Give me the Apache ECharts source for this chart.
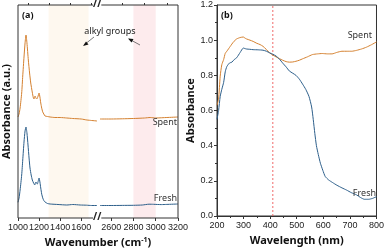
<!DOCTYPE html>
<html><head><meta charset="utf-8">
<script src="https://cdn.jsdelivr.net/npm/echarts@6/dist/echarts.min.js"></script>
<style>html,body{margin:0;padding:0;background:#fff}#c{width:387px;height:251px}</style>
</head><body><div id="c"></div>
<script>
// ---- Panel (a): FTIR, broken wavenumber axis ----
const ftirTicksLow = [1000, 1200, 1400, 1600];
const ftirTicksHigh = [2600, 2800, 3000, 3200];
const ftirMinorLow = [1100, 1300, 1500, 1700];
const ftirMinorHigh = [2700, 2900, 3100];
const alkylBandLow = [1290, 1670];
const alkylBandHigh = [2800, 3000];
const ftirSpentLow = [[1000,101],[1010,104],[1020,110],[1035,125],[1045,142],[1057,161],[1067,175],[1076,183],[1085,175],[1098,158],[1110,145],[1121,135],[1135,126],[1146,120],[1152,119],[1162,122],[1170,120],[1178,119],[1188,121],[1200,125],[1208,121],[1216,115],[1225,110],[1235,106],[1245,104],[1257,102],[1280,101.5],[1305,101],[1350,100.5],[1400,100.5],[1463,100],[1520,99.5],[1600,99],[1654,98],[1700,97.5],[1750,97]];
const ftirSpentHigh = [[2500,99],[2600,99],[2700,99.2],[2800,99.5],[2900,100],[2950,100.5],[3000,100],[3100,100.5],[3200,101]];
const ftirFreshLow = [[1000,15.7],[1010,20],[1020,28],[1035,43],[1045,58],[1057,76],[1067,87],[1076,91],[1085,85],[1095,73],[1105,60],[1114,50],[1125,43],[1136,38],[1148,35],[1159,33],[1165,35],[1171,36],[1178,34.5],[1184,34],[1192,37],[1200,40],[1208,36],[1216,30],[1225,24],[1235,20],[1245,17.5],[1257,16],[1280,14.5],[1305,14],[1380,13.5],[1463,13],[1520,13.5],[1590,13],[1650,12.8],[1700,12.5],[1750,12.5]];
const ftirFreshHigh = [[2500,12.5],[2600,12.5],[2700,12.6],[2800,12.7],[2880,13],[2940,13.8],[2980,13.7],[3050,13.4],[3100,13.6],[3200,14]];

// ---- Panel (b): UV-Vis ----
const uvSpent = [[200,0.63],[206,0.665],[212,0.795],[218,0.86],[225,0.89],[231,0.925],[237,0.937],[250,0.965],[262,0.99],[274,1.007],[287,1.015],[299,1.018],[305,1.012],[311,1.007],[324,1.0],[336,0.993],[350,0.982],[362,0.975],[373,0.965],[385,0.948],[398,0.928],[410,0.915],[422,0.905],[435,0.895],[447,0.886],[460,0.878],[472,0.875],[485,0.876],[497,0.88],[510,0.886],[522,0.894],[540,0.905],[559,0.918],[578,0.922],[596,0.924],[615,0.922],[633,0.922],[650,0.93],[670,0.937],[690,0.937],[707,0.937],[725,0.942],[744,0.95],[762,0.96],[781,0.974],[800,0.99]];
const uvFresh = [[200,0.55],[206,0.6],[212,0.68],[218,0.72],[225,0.76],[231,0.82],[237,0.85],[247,0.87],[256,0.875],[265,0.89],[274,0.9],[287,0.93],[299,0.955],[310,0.95],[324,0.948],[336,0.946],[355,0.945],[373,0.943],[386,0.937],[398,0.928],[410,0.92],[422,0.91],[435,0.892],[447,0.87],[460,0.848],[472,0.825],[485,0.812],[497,0.8],[510,0.778],[522,0.75],[534,0.72],[546,0.68],[556,0.62],[562,0.55],[568,0.47],[574,0.4],[581,0.35],[589,0.3],[598,0.26],[607,0.225],[620,0.205],[635,0.19],[651,0.175],[670,0.16],[688,0.147],[705,0.133],[725,0.12],[740,0.105],[755,0.095],[770,0.095],[785,0.1],[800,0.11]];
const uvMarker = 410;
const uvMarkerSpan = [0, 1.2];

const ORANGE = '#d4802f', BLUE = '#2c5e8a', AX = '#333', MARK = '#f06a6a';
const FONT = '"Noto Sans", "Open Sans", sans-serif';
const TFONT = '"Liberation Sans", sans-serif';
const lbl = {fontSize: 9, color: '#222', fontFamily: TFONT};

const chart = echarts.init(document.getElementById('c'), null, {renderer: 'canvas'});
function lineSeries(x, y, data, color, extra) {
  return Object.assign({type: 'line', xAxisIndex: x, yAxisIndex: y, data: data, showSymbol: false,
    smooth: 0.2, lineStyle: {color: color, width: 1}, itemStyle: {color: color}, animation: false, z: 3}, extra || {});
}
const plain = v => String(v);
const forceLbl = {margin: 5, interval: 0, hideOverlap: false, showMinLabel: true, showMaxLabel: true, formatter: plain};
chart.setOption({
  animation: false,
  grid: [
    {left: 18, width: 79, top: 5, height: 213},
    {left: 100, width: 78, top: 5, height: 213},
    {left: 217, right: 8, top: 5, bottom: 33, show: true, borderColor: AX, borderWidth: 1}
  ],
  xAxis: [
    {gridIndex: 0, type: 'value', min: 1000, max: 1750, axisLine: {show: false}, splitLine: {show: false},
      axisTick: {show: true, customValues: ftirTicksLow, length: 3, lineStyle: {color: AX}},
      axisLabel: Object.assign({customValues: ftirTicksLow}, forceLbl, lbl)},
    {gridIndex: 1, type: 'value', min: 2500, max: 3200, axisLine: {show: false}, splitLine: {show: false},
      axisTick: {show: true, customValues: ftirTicksHigh, length: 3, lineStyle: {color: AX}},
      axisLabel: Object.assign({customValues: ftirTicksHigh}, forceLbl, lbl)},
    {gridIndex: 0, type: 'value', min: 1000, max: 1750, axisLine: {show: false}, splitLine: {show: false},
      axisTick: {show: true, customValues: ftirMinorLow, length: 2, lineStyle: {color: AX}}, axisLabel: {show: false}},
    {gridIndex: 1, type: 'value', min: 2500, max: 3200, axisLine: {show: false}, splitLine: {show: false},
      axisTick: {show: true, customValues: ftirMinorHigh, length: 2, lineStyle: {color: AX}}, axisLabel: {show: false}},
    {gridIndex: 2, type: 'value', min: 200, max: 800, interval: 100, splitLine: {show: false},
      axisLine: {lineStyle: {color: AX}}, axisTick: {length: 3, lineStyle: {color: AX}},
      minorTick: {show: true, splitNumber: 2, length: 2, lineStyle: {color: AX}},
      axisLabel: Object.assign({}, forceLbl, lbl),
      name: 'Wavelength (nm)', nameLocation: 'middle', nameGap: 19,
      nameTextStyle: {fontSize: 11, fontWeight: 'bold', color: '#111', fontFamily: FONT}}
  ],
  yAxis: [
    {gridIndex: 0, type: 'value', min: 0, max: 213, axisLine: {show: false}, axisTick: {show: false},
      axisLabel: {show: false}, splitLine: {show: false},
      name: 'Absorbance (a.u.)', nameLocation: 'middle', nameGap: 6,
      nameTextStyle: {fontSize: 11, fontWeight: 'bold', color: '#111', fontFamily: FONT}},
    {gridIndex: 1, type: 'value', min: 0, max: 213, show: false},
    {gridIndex: 2, type: 'value', min: 0, max: 1.2, interval: 0.2, splitLine: {show: false},
      axisLine: {show: true, lineStyle: {color: AX}}, axisTick: {show: true, length: 3, lineStyle: {color: AX}},
      minorTick: {show: true, splitNumber: 2, length: 2, lineStyle: {color: AX}},
      axisLabel: Object.assign({margin: 4, formatter: v => v.toFixed(1)}, lbl),
      name: 'Absorbance', nameLocation: 'middle', nameGap: 20,
      nameTextStyle: {fontSize: 11, fontWeight: 'bold', color: '#111', fontFamily: FONT}}
  ],
  series: [
    lineSeries(0, 0, ftirSpentLow, ORANGE, {markArea: {silent: true, itemStyle: {color: '#fef8ef', opacity: 1},
      data: [[{xAxis: alkylBandLow[0]}, {xAxis: alkylBandLow[1]}]]}}),
    lineSeries(1, 1, ftirSpentHigh, ORANGE, {markArea: {silent: true, itemStyle: {color: '#fdebed', opacity: 1},
      data: [[{xAxis: alkylBandHigh[0]}, {xAxis: alkylBandHigh[1]}]]}}),
    lineSeries(0, 0, ftirFreshLow, BLUE),
    lineSeries(1, 1, ftirFreshHigh, BLUE),
    lineSeries(4, 2, uvMarkerSpan.map(v => [uvMarker, v]), MARK, {smooth: false, z: 2,
      lineStyle: {color: MARK, width: 1, type: [2, 2]}}),
    lineSeries(4, 2, uvSpent, ORANGE),
    lineSeries(4, 2, uvFresh, BLUE)
  ],
  graphic: [
    {type: 'rect', shape: {x: 18, y: 5, width: 160, height: 213}, style: {fill: 'none', stroke: AX, lineWidth: 1}, z: 10},
    {type: 'text', x: 93, y: -1, style: {text: '//', fontSize: 10, fontWeight: 'bold', fill: '#222', fontFamily: FONT, backgroundColor: '#fff'}, z: 11},
    {type: 'text', x: 93, y: 212, style: {text: '//', fontSize: 10, fontWeight: 'bold', fill: '#222', fontFamily: FONT, backgroundColor: '#fff'}, z: 11},
    {type: 'text', x: 98, y: 243, style: {text: 'Wavenumber (cm{s|-1})', align: 'center', verticalAlign: 'middle',
      fontSize: 11, fontWeight: 'bold', fill: '#111', fontFamily: FONT,
      rich: {s: {fontSize: 7, fontWeight: 'bold', fill: '#111', fontFamily: FONT, verticalAlign: 'top', padding: [0, 0, 6, 0]}}}, z: 10},
    {type: 'text', x: 22, y: 15, style: {text: '(a)', verticalAlign: 'middle', fontSize: 9, fontWeight: 'bold', fill: '#111', fontFamily: FONT}, z: 10},
    {type: 'text', x: 221, y: 15, style: {text: '(b)', verticalAlign: 'middle', fontSize: 9, fontWeight: 'bold', fill: '#111', fontFamily: FONT}, z: 10},
    {type: 'text', x: 110, y: 31, style: {text: 'alkyl groups', align: 'center', verticalAlign: 'middle', fontSize: 9, fill: '#222', fontFamily: FONT}, z: 10},
    {type: 'line', shape: {x1: 94, y1: 37, x2: 84, y2: 45}, style: {stroke: '#555', lineWidth: 0.8}, z: 10},
    {type: 'polygon', shape: {points: [[83, 46], [86, 41.5], [88.5, 44.5]]}, style: {fill: '#111'}, z: 10},
    {type: 'line', shape: {x1: 140, y1: 45, x2: 129, y2: 39}, style: {stroke: '#555', lineWidth: 0.8}, z: 10},
    {type: 'polygon', shape: {points: [[128, 38.5], [133.5, 39], [131.5, 42.5]]}, style: {fill: '#111'}, z: 10},
    {type: 'text', x: 177, y: 122, style: {text: 'Spent', align: 'right', verticalAlign: 'middle', fontSize: 9, fill: '#333', fontFamily: FONT}, z: 10},
    {type: 'text', x: 177, y: 198, style: {text: 'Fresh', align: 'right', verticalAlign: 'middle', fontSize: 9, fill: '#333', fontFamily: FONT}, z: 10},
    {type: 'text', x: 372, y: 35, style: {text: 'Spent', align: 'right', verticalAlign: 'middle', fontSize: 9, fill: '#333', fontFamily: FONT}, z: 10},
    {type: 'text', x: 376, y: 193, style: {text: 'Fresh', align: 'right', verticalAlign: 'middle', fontSize: 9, fill: '#333', fontFamily: FONT}, z: 10}
  ]
});
</script></body></html>
